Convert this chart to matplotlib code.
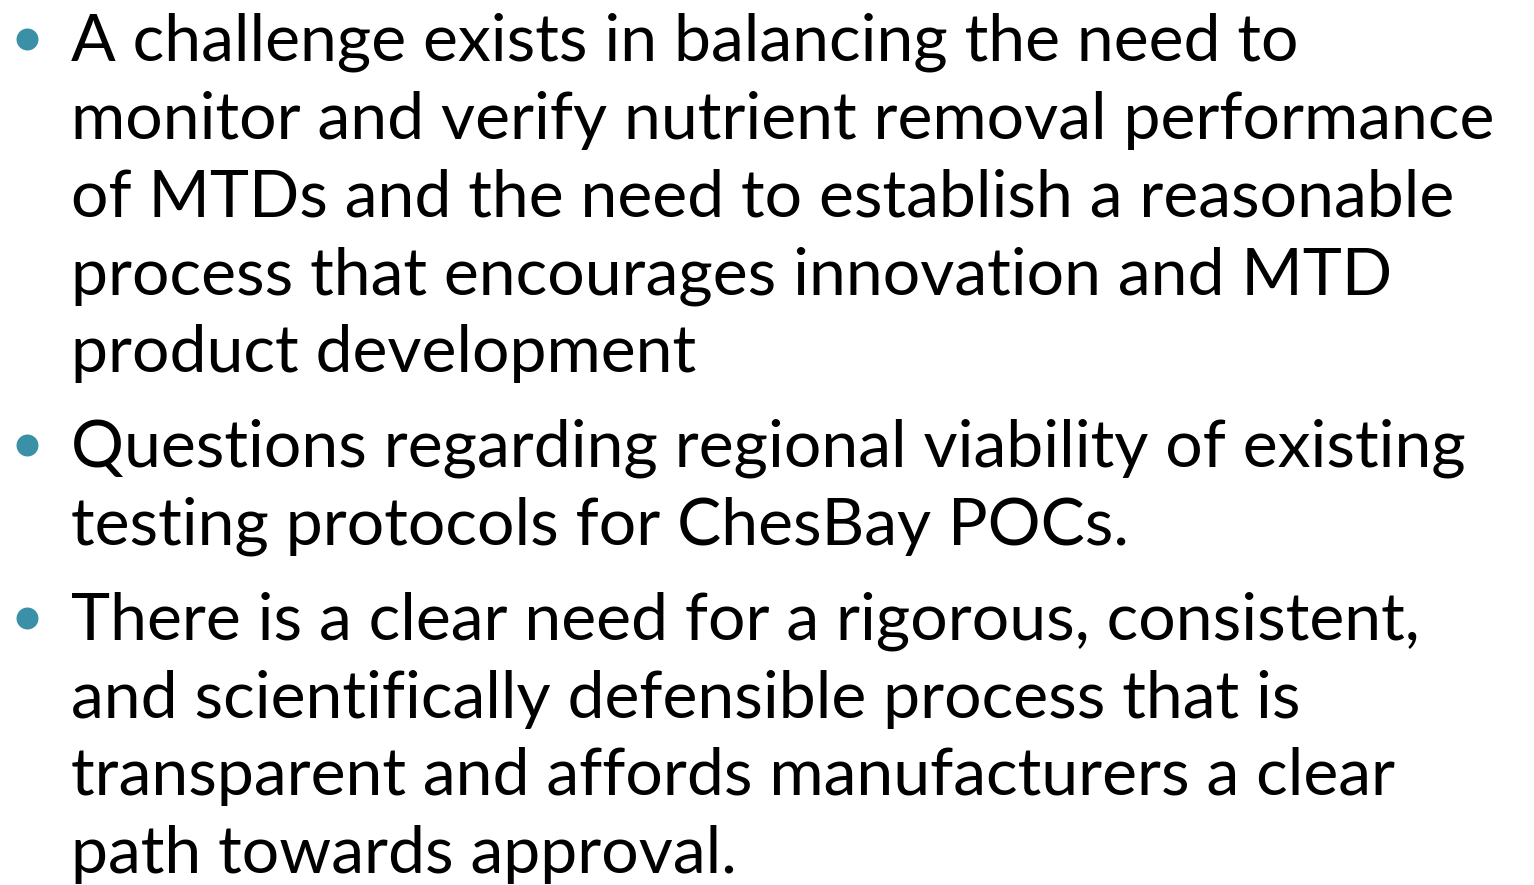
import matplotlib
matplotlib.use("Agg")
from matplotlib import pyplot as plt

# slide text, one entry per rendered line
bullet_1 = ["A challenge exists in balancing the need to",
            "monitor and verify nutrient removal performance",
            "of MTDs and the need to establish a reasonable",
            "process that encourages innovation and MTD",
            "product development"]
bullet_2 = ["Questions regarding regional viability of existing",
            "testing protocols for ChesBay POCs."]
bullet_3 = ["There is a clear need for a rigorous, consistent,",
            "and scientifically defensible process that is",
            "transparent and affords manufacturers a clear",
            "path towards approval."]
bullets = [bullet_1, bullet_2, bullet_3]

W, H = 1534, 885
text_x = 71
bullet_x = 27
first_baseline = 61
line_step = 77.7
bullet_gap = 17.5
bullet_colour = "#3a90a6"
font_size = 47.6


def main():
    fig = plt.figure(figsize=(W / 100, H / 100), dpi=100)
    ax = fig.add_axes([0, 0, 1, 1])
    ax.set_xlim(0, W)
    ax.set_ylim(H, 0)
    ax.axis("off")

    y = first_baseline
    for lines in bullets:
        ax.scatter([bullet_x], [y - 22], s=250, color=bullet_colour, lw=0)
        for line in lines:
            ax.text(text_x, y, line, fontsize=font_size, family="Lato",
                    va="baseline", ha="left", color="black")
            y += line_step
        y += bullet_gap

    fig.savefig("out.png", dpi=100, facecolor="white")


if '__main__' == __name__:
    main()
